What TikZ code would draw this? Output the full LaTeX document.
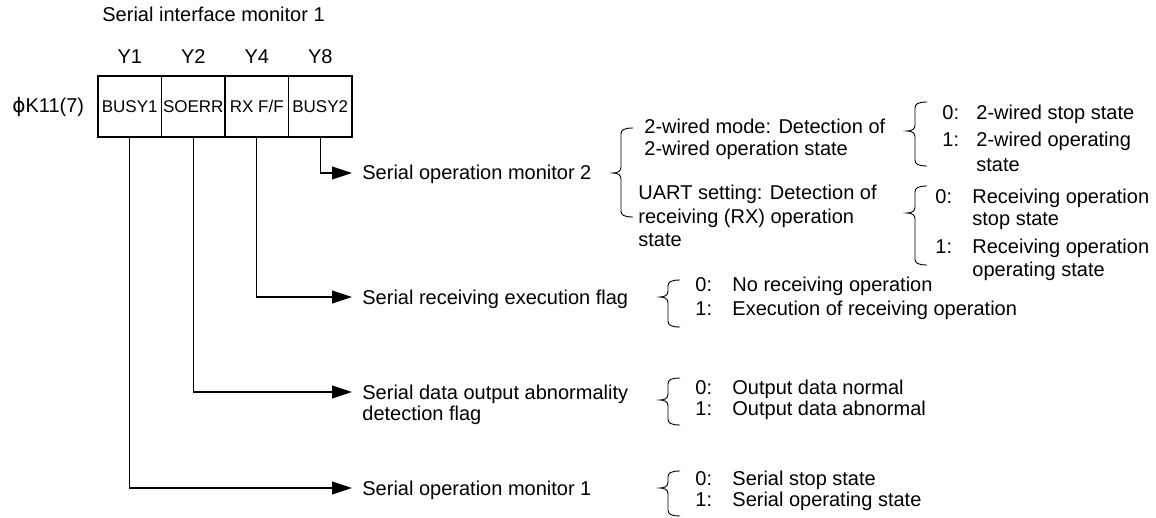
\documentclass[tikz,border=0pt]{standalone}
\usepackage{fontspec}
\setmainfont{Liberation Sans}
\newfontfamily\phifont{DejaVu Sans}
\usetikzlibrary{arrows.meta}
\newcommand{\curlyb}[4]{\draw[brc] ({#1+20},#2) .. controls ({#1+11},#2) and ({#1+8},{#2+2}) .. ({#1+8},{#2+6}) -- ({#1+8},{#3-6}) .. controls ({#1+8},{#3-2}) and ({#1+5},#3) .. (#1,#3) .. controls ({#1+5},#3) and ({#1+8},{#3+2}) .. ({#1+8},{#3+6}) -- ({#1+8},{#4-6}) .. controls ({#1+8},{#4-2}) and ({#1+11},#4) .. ({#1+20},#4);}
\begin{document}
\begin{tikzpicture}[x=0.5pt,y=-0.5pt,
  lbl/.style={anchor=west, inner sep=0pt, text height=7pt, text depth=0pt, font=\fontsize{10}{12}\selectfont},
  ylbl/.style={lbl, anchor=center},
  cell/.style={draw, line width=0.55pt, minimum width=31.75pt, minimum height=30.5pt, inner sep=0pt, text height=6.1pt, text depth=0pt, font=\fontsize{8.5}{10}\selectfont},
  conn/.style={line width=0.55pt, -{Triangle[length=10pt,width=6.5pt]}},
  brc/.style={line width=0.45pt}]
\useasboundingbox (0,0) rectangle (1156,518);

% title and register
\node[lbl] (title) at (102,15) {Serial interface monitor 1};
\node[lbl] (reg) at (12,106) {{\phifont ϕ}K11(7)};

% cells
\node[cell] (c1) at (129.75,106.5) {BUSY1};
\node[cell] (c2) at (193.25,106.5) {SOERR};
\node[cell] (c4) at (256.75,106.5) {RX F/F};
\node[cell] (c8) at (320.25,106.5) {BUSY2};

\node[ylbl] (y1) at (129.75,57) {Y1};
\node[ylbl] (y2) at (193.25,57) {Y2};
\node[ylbl] (y4) at (256.75,57) {Y4};
\node[ylbl] (y8) at (320.25,57) {Y8};

% main labels
\node[lbl] (m2) at (362,173) {Serial operation monitor 2};
\node[lbl] (rx) at (362,297) {Serial receiving execution flag};
\node[lbl] (so) at (362,392) {Serial data output abnormality};
\node[lbl] (so2) at (362,413) {detection flag};
\node[lbl] (m1) at (362,488) {Serial operation monitor 1};

% connectors
\draw[conn] (c8.south) |- ([xshift=-5pt]m2.west);
\draw[conn] (c4.south) |- ([xshift=-5pt]rx.west);
\draw[conn] (c2.south) |- ([xshift=-5pt]so.west);
\draw[conn] (c1.south) |- ([xshift=-5pt]m1.west);

% monitor 2 sub-descriptions
\node[lbl] (wa) at (644,127) {2-wired mode: Detection of};
\node[lbl] (wb) at (644,149) {2-wired operation state};
\node[lbl] (ua) at (638,193) {UART setting: Detection of};
\node[lbl] (ub) at (638,217) {receiving (RX) operation};
\node[lbl] (uc) at (638,240) {state};

% braces
\curlyb{613}{128}{173}{217}
\curlyb{907}{102}{131}{166}
\curlyb{907}{186}{213}{265}
\curlyb{660}{280}{297}{327}
\curlyb{660}{378}{400}{425}
\curlyb{660}{471}{488}{516}

% 2-wired values
\node[lbl] (w0n) at (942,113) {0:};
\node[lbl] (w0) at (976,113) {2-wired stop state};
\node[lbl] (w1n) at (942,140) {1:};
\node[lbl] (w1) at (976,140) {2-wired operating};
\node[lbl] (w1b) at (976,165) {state};

% UART values
\node[lbl] (u0n) at (935,197) {0:};
\node[lbl] (u0) at (972,197) {Receiving operation};
\node[lbl] (u0b) at (972,219) {stop state};
\node[lbl] (u1n) at (935,247) {1:};
\node[lbl] (u1) at (972,247) {Receiving operation};
\node[lbl] (u1b) at (972,270) {operating state};

% RX values
\node[lbl] (r0n) at (695,285) {0:};
\node[lbl] (r0) at (732,285) {No receiving operation};
\node[lbl] (r1n) at (695,308) {1:};
\node[lbl] (r1) at (732,308) {Execution of receiving operation};

% SOERR values
\node[lbl] (s0n) at (695,387) {0:};
\node[lbl] (s0) at (732,387) {Output data normal};
\node[lbl] (s1n) at (695,408) {1:};
\node[lbl] (s1) at (732,408) {Output data abnormal};

% BUSY1 values
\node[lbl] (b0n) at (695,478) {0:};
\node[lbl] (b0) at (732,478) {Serial stop state};
\node[lbl] (b1n) at (695,499) {1:};
\node[lbl] (b1) at (732,499) {Serial operating state};
\end{tikzpicture}
\end{document}
